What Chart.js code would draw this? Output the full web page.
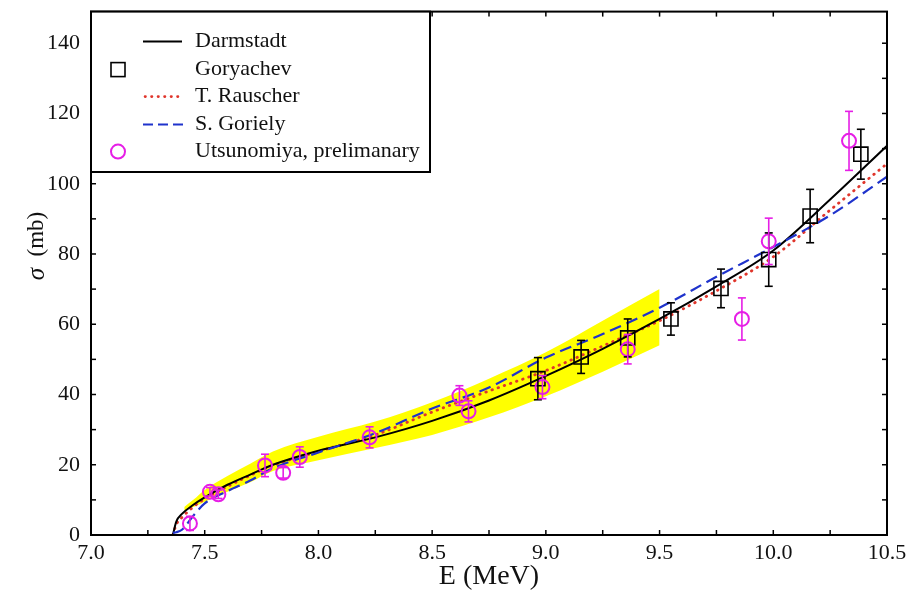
<!DOCTYPE html>
<html>
<head>
<meta charset="utf-8">
<script src="https://cdn.jsdelivr.net/npm/chart.js"></script>
<style>
  body { margin: 0; background: #fff; }
  #wrap { position: relative; width: 918px; height: 595px; }
</style>
</head>
<body>
<div id="wrap"><canvas id="chart"></canvas></div>
<script>
// ---- data ----
const curveE    = [7.36, 7.375, 7.40, 7.45, 7.50, 7.60, 7.70, 7.80, 8.00, 8.25, 8.50, 8.75, 9.00, 9.25, 9.50, 9.75, 10.00, 10.25, 10.50];
const darmstadt = [0, 3.8, 6.0, 8.6, 10.7, 14.3, 17.2, 20.0, 24.0, 27.8, 32.5, 38.3, 45.3, 53.0, 61.5, 70.8, 81.0, 95.5, 110.8];
const rauscher  = [0, 3.0, 5.0, 8.0, 10.3, 13.8, 17.0, 19.8, 23.8, 28.5, 35.0, 41.0, 46.8, 53.8, 61.0, 69.5, 79.2, 92.5, 105.7];
const goriely   = [0.6, 0.8, 1.5, 5.5, 9.0, 12.5, 15.5, 19.0, 23.5, 29.0, 36.0, 42.0, 50.5, 57.2, 64.7, 73.5, 82.0, 91.0, 102.0];

const bandE  = [7.41, 7.45, 7.50, 7.60, 7.70, 7.80, 8.00, 8.25, 8.50, 8.75, 9.00, 9.25, 9.50];
const bandHi = [8.0, 10.0, 12.8, 16.8, 20.3, 23.8, 28.0, 32.3, 37.8, 44.5, 52.0, 61.0, 70.0];
const bandLo = [7.0, 8.0, 9.5, 12.3, 15.0, 18.2, 21.3, 24.8, 28.5, 33.5, 39.5, 46.5, 54.0];

const gorE   = [8.965, 9.155, 9.36, 9.55, 9.77, 9.98, 10.162, 10.385];
const gorS   = [44.5, 50.7, 56.1, 61.5, 70.2, 78.4, 90.8, 108.4];
const gorErr = [6.0, 4.7, 5.4, 4.6, 5.5, 7.6, 7.6, 7.1];

const utsE   = [7.435, 7.523, 7.56, 7.765, 7.845, 7.918, 8.225, 8.62, 8.66, 8.985, 9.36, 9.862, 9.98, 10.333];
const utsS   = [3.3, 12.3, 11.6, 19.8, 17.7, 22.2, 27.8, 39.7, 35.2, 42.1, 52.9, 61.5, 83.6, 112.2];
const utsErr = [2.0, 1.2, 1.2, 3.2, 1.5, 2.9, 3.0, 2.8, 3.0, 3.3, 4.2, 6.0, 6.6, 8.4];

const xTicks = [7.0, 7.5, 8.0, 8.5, 9.0, 9.5, 10.0, 10.5];
const yTicks = [0, 20, 40, 60, 80, 100, 120, 140];

const legendNames = ['Darmstadt', 'Goryachev', 'T. Rauscher', 'S. Goriely', 'Utsunomiya, prelimanary'];

const MAGENTA = '#e61ee6';
const RED = '#e0352b';
const BLUE = '#1f33cc';
const SERIF = '"Liberation Serif", "Times New Roman", serif';

function pts(xs, ys) { return xs.map((v, i) => ({x: v, y: ys[i]})); }

function line(ctx, x1, y1, x2, y2) {
    ctx.beginPath(); ctx.moveTo(x1, y1); ctx.lineTo(x2, y2); ctx.stroke();
}

var decor = {
    id: 'decor',
    afterDatasetsDraw(chart) {
        const ctx = chart.ctx, a = chart.chartArea, x = chart.scales.x, y = chart.scales.y;
        ctx.save();
        // error bars
        var bars = function(es, ss, errs, color) {
            ctx.strokeStyle = color; ctx.lineWidth = 1.6;
            for (var i = 0; i < es.length; i++) {
                var px = x.getPixelForValue(es[i]);
                var top = y.getPixelForValue(ss[i] + errs[i]);
                var bot = y.getPixelForValue(ss[i] - errs[i]);
                line(ctx, px, top, px, bot);
                line(ctx, px - 4, top, px + 4, top);
                line(ctx, px - 4, bot, px + 4, bot);
            }
        };
        bars(gorE, gorS, gorErr, '#000');
        bars(utsE, utsS, utsErr, MAGENTA);

        // inward ticks on all four sides
        ctx.strokeStyle = '#000'; ctx.lineWidth = 1.5;
        for (var v = 7; v <= 10.5001; v += 0.25) {
            var px = x.getPixelForValue(v);
            line(ctx, px, a.bottom, px, a.bottom - 5);
            line(ctx, px, a.top, px, a.top + 5);
        }
        for (var w = 0; w <= 140; w += 10) {
            var py = y.getPixelForValue(w);
            line(ctx, a.left, py, a.left + 5, py);
            line(ctx, a.right, py, a.right - 5, py);
        }
        ctx.lineWidth = 2;
        ctx.strokeRect(a.left, a.top, a.width, a.height);
        ctx.restore();
    },
    afterDraw(chart) {
        const ctx = chart.ctx, a = chart.chartArea;
        ctx.save();
        // legend box
        var L = a.left, T = a.top, R = 430, B = 172;
        ctx.fillStyle = '#fff';
        ctx.fillRect(L, T, R - L, B - T);
        ctx.strokeStyle = '#000'; ctx.lineWidth = 2;
        ctx.strokeRect(L, T, R - L, B - T);

        var rows = [T + 30, T + 58, T + 85, T + 113, T + 140];
        ctx.font = '22px ' + SERIF;
        ctx.fillStyle = '#111';
        ctx.textBaseline = 'middle';
        ctx.textAlign = 'left';
        legendNames.forEach(function(n, i) { ctx.fillText(n, 195, rows[i]); });

        // samples
        ctx.lineWidth = 2; ctx.strokeStyle = '#000';
        line(ctx, 143, rows[0], 182, rows[0]);
        ctx.lineWidth = 1.6;
        ctx.strokeRect(111, rows[1] - 7, 14, 14);
        ctx.strokeStyle = RED; ctx.lineWidth = 2.6; ctx.lineCap = 'round';
        ctx.setLineDash([0.5, 6]);
        line(ctx, 145, rows[2], 182, rows[2]);
        ctx.lineCap = 'butt';
        ctx.strokeStyle = BLUE; ctx.lineWidth = 2;
        ctx.setLineDash([10, 5]);
        line(ctx, 143, rows[3], 183, rows[3]);
        ctx.setLineDash([]);
        ctx.strokeStyle = MAGENTA; ctx.lineWidth = 2;
        ctx.beginPath(); ctx.arc(118, rows[4], 7, 0, Math.PI * 2); ctx.stroke();

        // axis titles
        ctx.fillStyle = '#111';
        ctx.textAlign = 'center';
        ctx.font = '28px ' + SERIF;
        ctx.fillText('E (MeV)', (a.left + a.right) / 2, 577);

        ctx.translate(37, 246);
        ctx.rotate(-Math.PI / 2);
        ctx.font = 'italic 25px ' + SERIF;
        var s1 = 'σ', s2 = '  (mb)';
        var w1 = ctx.measureText(s1).width;
        ctx.font = '23px ' + SERIF;
        var w2 = ctx.measureText(s2).width;
        var x0 = -(w1 + w2) / 2;
        ctx.textAlign = 'left';
        ctx.font = 'italic 25px ' + SERIF;
        ctx.fillText(s1, x0, 0);
        ctx.font = '23px ' + SERIF;
        ctx.fillText(s2, x0 + w1, 0);
        ctx.restore();
    }
};

var lineDs = function(label, ys, color, width, dash, order) {
    return {
        label: label, data: pts(curveE, ys), showLine: true, pointRadius: 0,
        borderColor: color, borderWidth: width, borderDash: dash,
        borderCapStyle: dash.length && dash[0] < 2 ? 'round' : 'butt',
        cubicInterpolationMode: 'monotone', fill: false, order: order
    };
};

new Chart(document.getElementById('chart'), {
    type: 'scatter',
    data: {
        datasets: [
            { label: 'band low', data: pts(bandE, bandLo), showLine: true, pointRadius: 0,
              borderWidth: 1, borderColor: 'rgba(0,0,0,0)', fill: false,
              cubicInterpolationMode: 'monotone', order: 20 },
            { label: 'band high', data: pts(bandE, bandHi), showLine: true, pointRadius: 0,
              borderWidth: 1, borderColor: 'rgba(0,0,0,0)', backgroundColor: '#ffff00', fill: '-1',
              cubicInterpolationMode: 'monotone', order: 19 },
            lineDs('Darmstadt', darmstadt, '#000', 2, [], 5),
            lineDs('T. Rauscher', rauscher, RED, 2.8, [0.5, 6], 6),
            lineDs('S. Goriely', goriely, BLUE, 2.2, [12, 6], 4),
            { label: 'Goryachev', data: pts(gorE, gorS), showLine: false, pointStyle: 'rect',
              pointRadius: 10, borderColor: '#000', borderWidth: 1.6,
              backgroundColor: 'rgba(0,0,0,0)', order: 2 },
            { label: 'Utsunomiya, prelimanary', data: pts(utsE, utsS), showLine: false, pointStyle: 'circle',
              pointRadius: 7, borderColor: MAGENTA, borderWidth: 2,
              backgroundColor: 'rgba(0,0,0,0)', order: 1 }
        ]
    },
    options: {
        responsive: true,
        maintainAspectRatio: false,
        animation: false,
        events: [],
        layout: { padding: { top: 9, right: 31, left: 0, bottom: 0 } },
        plugins: { legend: { display: false }, tooltip: { enabled: false } },
        scales: {
            x: {
                type: 'linear', min: 7, max: 10.5,
                grid: { display: false, drawTicks: false }, border: { display: false },
                afterBuildTicks: function(s) { s.ticks = xTicks.map(function(v) { return {value: v}; }); },
                afterFit: function(s) { s.height = 60; s.paddingLeft = 0; s.paddingRight = 0; },
                ticks: { autoSkip: false, maxRotation: 0, padding: 5, color: '#111',
                         font: { family: SERIF, size: 22 },
                         callback: function(v) { return v.toFixed(1); } }
            },
            y: {
                type: 'linear', min: 0, max: 149,
                grid: { display: false, drawTicks: false }, border: { display: false },
                afterBuildTicks: function(s) { s.ticks = yTicks.map(function(v) { return {value: v}; }); },
                afterFit: function(s) { s.width = 91; s.paddingTop = 0; s.paddingBottom = 0; },
                ticks: { padding: 11, color: '#111', font: { family: SERIF, size: 22 } }
            }
        }
    },
    plugins: [decor]
});
</script>
</body>
</html>
